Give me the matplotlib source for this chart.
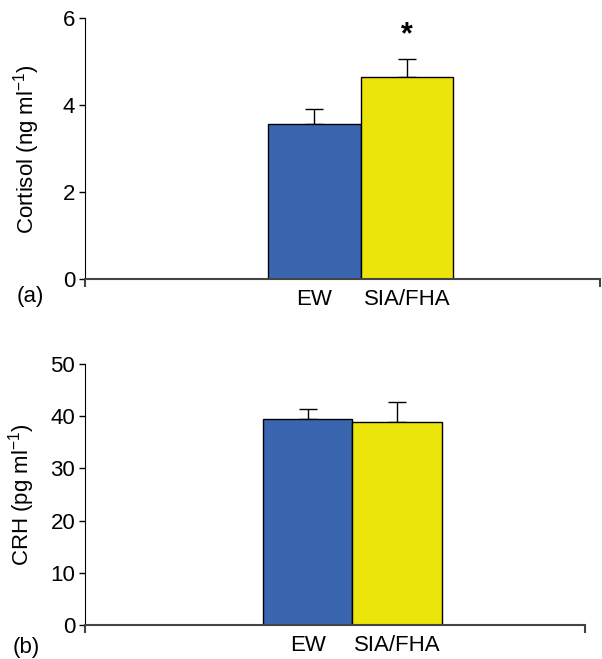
import matplotlib
matplotlib.use('Agg')
import matplotlib.pyplot as plt

plt.rcParams.update({'font.family': 'Liberation Sans', 'font.size': 16,
                     'mathtext.fontset': 'custom', 'mathtext.rm': 'Liberation Sans',
                     'mathtext.it': 'Liberation Sans'})

groups = ['EW', 'SIA/FHA']
colors = ['#3A66B0', '#ECE50B']

cortisol = [3.57, 4.66]
cortisol_err = [0.34, 0.40]
crh = [39.4, 38.95]
crh_err = [2.0, 3.8]

W, H = 602, 659
fig = plt.figure(figsize=(W / 100, H / 100), dpi=100)


def panel(rect, vals, errs, ymax, yticks, xlim, ylabel, label_x):
    ax = fig.add_axes(rect)
    x = [0, 1]
    ax.bar(x, vals, width=1.0, color=colors, edgecolor='black', linewidth=1.0, zorder=2)
    ax.errorbar(x, vals, yerr=[[0, 0], errs], fmt='none', ecolor='black',
                elinewidth=1.0, capsize=6.5, capthick=1.0, zorder=1)
    ax.set_xlim(*xlim)
    ax.set_ylim(0, ymax)
    ax.set_yticks(yticks)
    ax.spines['top'].set_visible(False)
    ax.spines['right'].set_visible(False)
    ax.spines['left'].set_color('black')
    ax.spines['bottom'].set_color('#444444')
    ax.spines['bottom'].set_linewidth(1.5)
    ax.tick_params(axis='y', direction='out', length=4, width=1.0, pad=3)
    # end ticks on x axis, category names as minor labels
    ax.set_xticks(list(xlim))
    ax.set_xticklabels(['', ''])
    ax.tick_params(axis='x', which='major', direction='out', length=6, width=1.5,
                   color='#444444')
    ax.set_xticks(x, minor=True)
    ax.set_xticklabels(groups, minor=True)
    ax.tick_params(axis='x', which='minor', length=0, pad=7)
    ax.set_ylabel(ylabel)
    ax.yaxis.set_label_coords(label_x, 0.5)
    return ax


ax1 = panel([85 / W, 1 - 279.3 / H, 515 / W, 261 / H], cortisol, cortisol_err,
            6, [0, 2, 4, 6], (-2.47, 3.08), 'Cortisol (ng ml$^{-1}$)', -0.083)
ax1.text(1, 5.62, '*', ha='center', va='center', fontsize=22, fontweight='bold')

ax2 = panel([85 / W, 1 - 625 / H, 500 / W, 261 / H], crh, crh_err,
            50, [0, 10, 20, 30, 40, 50], (-2.5, 3.11), 'CRH (pg ml$^{-1}$)', -0.096)

fig.text(30 / W, 1 - 297 / H, '(a)', ha='center', va='center', fontsize=16)
fig.text(26 / W, 1 - 648 / H, '(b)', ha='center', va='center', fontsize=16)

fig.savefig('out.png', dpi=100)
